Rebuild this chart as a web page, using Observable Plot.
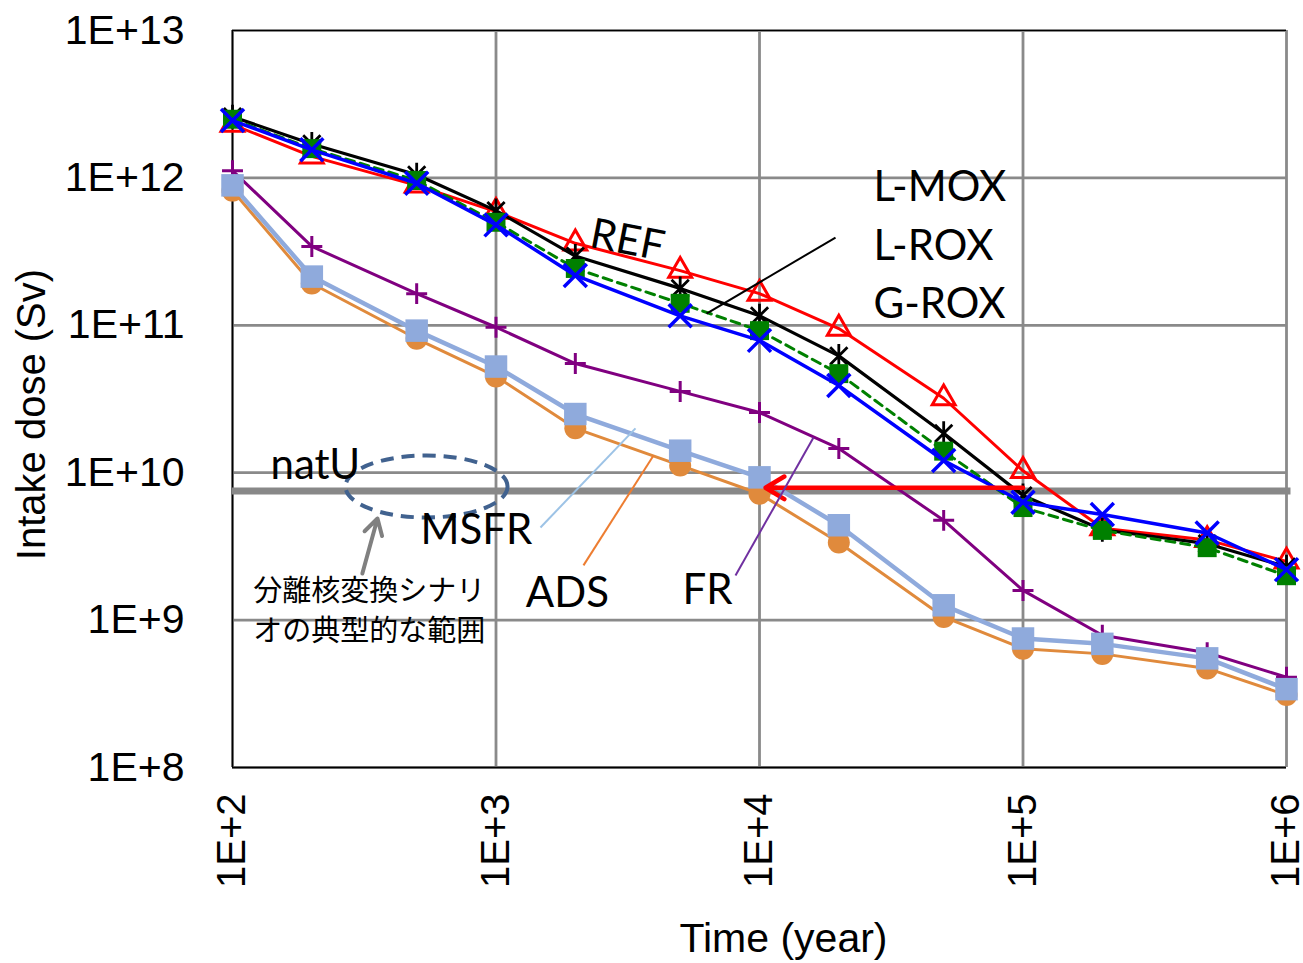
<!DOCTYPE html>
<html>
<head>
<meta charset="utf-8">
<script src="https://cdn.jsdelivr.net/npm/d3@7"></script>
<script src="https://cdn.jsdelivr.net/npm/@observablehq/plot@0.6"></script>
<style>
  html, body { margin: 0; padding: 0; background: #fff; }
  svg { display: block; }
</style>
</head>
<body>
<div id="chart"></div>
<script>
// ---- data ----
const years = [100, 200, 500, 1000, 2000, 5000, 10000, 20000, 50000, 100000, 200000, 500000, 1000000];
const REF   = [2.3e12, 1.4e12, 8.9e11, 5.9e11, 3.6e11, 2.35e11, 1.64e11, 9.5e10, 3.2e10, 1.03e10, 4.2e9, 3.5e9, 2.5e9];
const LMOX  = [2.6e12, 1.7e12, 1.05e12, 6.0e11, 2.95e11, 1.78e11, 1.16e11, 6.2e10, 1.85e10, 7.0e9, 4.1e9, 3.3e9, 2.3e9];
const GROX  = [2.5e12, 1.58e12, 9.6e11, 5.0e11, 2.43e11, 1.41e11, 9.2e10, 4.7e10, 1.4e10, 5.8e9, 4.06e9, 3.1e9, 2.0e9];
const LROX  = [2.45e12, 1.55e12, 9.2e11, 4.8e11, 2.18e11, 1.16e11, 7.9e10, 3.9e10, 1.21e10, 6.3e9, 5.2e9, 3.9e9, 2.2e9];
const FR    = [1.12e12, 3.43e11, 1.64e11, 9.7e10, 5.5e10, 3.56e10, 2.56e10, 1.46e10, 4.75e9, 1.59e9, 7.9e8, 6.0e8, 4.1e8];
const MSFR  = [8.9e11, 2.14e11, 9.2e10, 5.25e10, 2.5e10, 1.41e10, 9.3e9, 4.4e9, 1.26e9, 7.5e8, 6.9e8, 5.5e8, 3.4e8];
const ADS   = [8.2e11, 1.92e11, 8.1e10, 4.5e10, 2.0e10, 1.12e10, 7.2e9, 3.36e9, 1.05e9, 6.4e8, 5.9e8, 4.7e8, 3.1e8];
const natU  = 7.5e9;
const natUArrowTip = 1.054e4;   // end of red arrow (year)
const natUArrowY = 7.9e9;

const xTicks = [1e2, 1e3, 1e4, 1e5, 1e6];
const xTickLabels = ["1E+2", "1E+3", "1E+4", "1E+5", "1E+6"];
const yTicks = [1e8, 1e9, 1e10, 1e11, 1e12, 1e13];
const yTickLabels = ["1E+8", "1E+9", "1E+10", "1E+11", "1E+12", "1E+13"];

const rows = (name, vals) => years.map((t, i) => ({series: name, t, v: vals[i]}));
const dREF = rows("REF", REF), dLMOX = rows("L-MOX", LMOX), dGROX = rows("G-ROX", GROX),
      dLROX = rows("L-ROX", LROX), dFR = rows("FR", FR), dMSFR = rows("MSFR", MSFR), dADS = rows("ADS", ADS);

// ---- custom symbols ----
const asteriskSym = {draw(ctx, size) {
  const r = Math.sqrt(size / Math.PI), d = r * 0.72;
  ctx.moveTo(0, -r); ctx.lineTo(0, r);
  ctx.moveTo(-d, -d); ctx.lineTo(d, d);
  ctx.moveTo(-d, d); ctx.lineTo(d, -d);
}};
const ellipseSym = {draw(ctx) {
  const a = 81, b = 31, k = 0.5523;
  ctx.moveTo(a, 0);
  ctx.bezierCurveTo(a, b * k, a * k, b, 0, b);
  ctx.bezierCurveTo(-a * k, b, -a, b * k, -a, 0);
  ctx.bezierCurveTo(-a, -b * k, -a * k, -b, 0, -b);
  ctx.bezierCurveTo(a * k, -b, a, -b * k, a, 0);
  ctx.closePath();
}};

const ANN = "Lato, 'Open Sans', sans-serif";
const GRID = "#8a8a8a";

const series = (data, color, sym, r, opts = {}) => [
  Plot.line(data, {x: "t", y: "v", stroke: color, strokeWidth: opts.lw ?? 3, strokeDasharray: opts.dash}),
  Plot.dot(data, {x: "t", y: "v", symbol: sym, r,
    fill: opts.filled ? color : "none", stroke: opts.filled ? "none" : color, strokeWidth: opts.sw ?? 3})
];

const chart = Plot.plot({
  width: 1303,
  height: 963,
  marginLeft: 232,
  marginRight: 17,
  marginTop: 30,
  marginBottom: 196,
  style: {fontFamily: "'Liberation Sans', Arial, sans-serif", fontSize: "40px", background: "#fff", color: "#000", overflow: "visible"},
  x: {type: "log", domain: [1e2, 1e6]},
  y: {type: "log", domain: [1e8, 1e13]},
  marks: [
    Plot.ruleX(xTicks, {stroke: GRID, strokeWidth: 2.8}),
    Plot.ruleY(yTicks, {stroke: GRID, strokeWidth: 2.8}),
    Plot.ruleX([1e2], {stroke: "#000", strokeWidth: 1.5}),
    Plot.ruleY([1e8], {stroke: "#000", strokeWidth: 1.5}),
    Plot.ruleY([1e13], {stroke: "#000", strokeWidth: 1}),
    Plot.axisY({ticks: yTicks, tickFormat: d => yTickLabels[yTicks.indexOf(d)], tickSize: 0, tickPadding: 48, label: null, fontSize: 41}),
    Plot.axisX({ticks: xTicks, tickFormat: d => xTickLabels[xTicks.indexOf(d)], tickSize: 0, tickPadding: 26, tickRotate: -90, label: null, fontSize: 40}),
    // natU line
    Plot.ruleY([natU], {x1: 1e2, x2: 1.04e6, stroke: "#888888", strokeWidth: 7}),
    // series
    ...series(dADS, "#e08a3c", "circle", 11, {filled: true, lw: 3}),
    ...series(dFR, "#800080", "plus", 6.8, {lw: 3, sw: 3}),
    ...series(dMSFR, "#8faadc", "square", 12.7, {filled: true, lw: 4.5}),
    ...series(dREF, "#ff0000", "triangle", 8.5, {lw: 3, sw: 3}),
    ...series(dLMOX, "#000000", asteriskSym, 12, {lw: 3.2, sw: 2.8}),
    ...series(dGROX, "#008000", "square", 10.7, {filled: true, lw: 3, dash: "9,6"}),
    ...series(dLROX, "#0000ff", "times", 10.5, {lw: 3.5, sw: 3.5}),
    // red arrow (natU crossing)
    Plot.arrow([0], {x1: 1e5, y1: natUArrowY, x2: natUArrowTip, y2: natUArrowY, stroke: "#ff0000", strokeWidth: 4.5, headLength: 7.3, headAngle: 62}),
    // ellipse and grey arrow
    Plot.dot([0], {x: 545, y: 8.06e9, symbol: ellipseSym, r: 1, fill: "none", stroke: "#41628f", strokeWidth: 4, strokeDasharray: "13,8"}),
    Plot.arrow([0], {x1: 311, y1: 2.07e9, x2: 355, y2: 4.89e9, stroke: "#808080", strokeWidth: 4, headLength: 6.8, headAngle: 60}),
    // leader lines
    Plot.link([0], {x1: 19430, y1: 3.94e11, x2: 6295, y2: 1.2e11, stroke: "#000", strokeWidth: 2}),
    Plot.link([0], {x1: 1475, y1: 4.25e9, x2: 3383, y2: 2.0e10, stroke: "#9dc3e6", strokeWidth: 2}),
    Plot.link([0], {x1: 2148, y1: 2.35e9, x2: 3961, y2: 1.31e10, stroke: "#ed7d31", strokeWidth: 2}),
    Plot.link([0], {x1: 8108, y1: 2.01e9, x2: 16030, y2: 1.73e10, stroke: "#7030a0", strokeWidth: 2}),
    // annotation texts
    Plot.text(["REF"], {x: 3150, y: 3.76e11, text: d => d, rotate: 11, fontFamily: ANN, fontSize: 42, fill: "#000"}),
    Plot.text(["L-MOX"], {x: 27070, y: 8.6e11, text: d => d, textAnchor: "start", fontFamily: ANN, fontSize: 42, fill: "#000"}),
    Plot.text(["L-ROX"], {x: 27070, y: 3.42e11, text: d => d, textAnchor: "start", fontFamily: ANN, fontSize: 42, fill: "#000"}),
    Plot.text(["G-ROX"], {x: 27070, y: 1.384e11, text: d => d, textAnchor: "start", fontFamily: ANN, fontSize: 42, fill: "#000"}),
    Plot.text(["natU"], {x: 139.4, y: 1.12e10, text: d => d, textAnchor: "start", fontFamily: ANN, fontSize: 42, fill: "#000"}),
    Plot.text(["MSFR"], {x: 843, y: 4.05e9, text: d => d, fontFamily: ANN, fontSize: 42, fill: "#000"}),
    Plot.text(["ADS"], {x: 1867, y: 1.515e9, text: d => d, fontFamily: ANN, fontSize: 42, fill: "#000"}),
    Plot.text(["FR"], {x: 6350, y: 1.59e9, text: d => d, fontFamily: ANN, fontSize: 42, fill: "#000"}),
    Plot.text(["分離核変換シナリ"], {x: 330, y: 1.56e9, text: d => d, fontFamily: "'Noto Sans CJK JP', sans-serif", fontSize: 29, fill: "#000"}),
    Plot.text(["オの典型的な範囲"], {x: 330, y: 8.4e8, text: d => d, fontFamily: "'Noto Sans CJK JP', sans-serif", fontSize: 29, fill: "#000"}),
    // axis titles
    Plot.text(["Time (year)"], {x: 12330, frameAnchor: "bottom", dy: 184, text: d => d, fontSize: 41, fill: "#000"}),
    Plot.text(["Intake dose (Sv)"], {y: 2.48e10, frameAnchor: "left", dx: -200, rotate: -90, textAnchor: "middle", text: d => d, fontSize: 40, fill: "#000"})
  ]
});
document.getElementById("chart").appendChild(chart);
</script>
</body>
</html>
